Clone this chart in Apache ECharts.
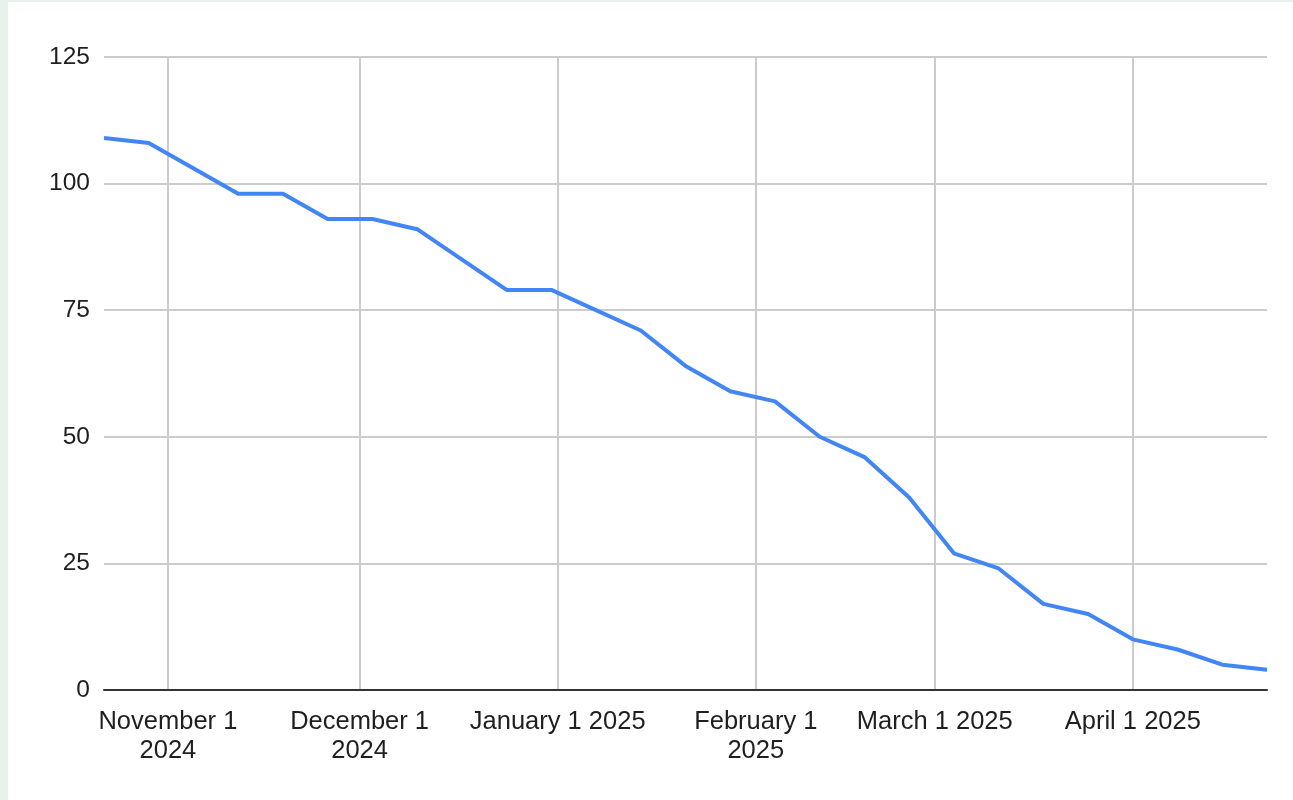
<!DOCTYPE html>
<html>
<head>
<meta charset="utf-8">
<script src="https://cdn.jsdelivr.net/npm/echarts@6/dist/echarts.min.js"></script>
<style>
  html, body { margin: 0; padding: 0; width: 1293px; height: 800px; background: #e6f2ec; overflow: hidden; }
  #chart { position: absolute; left: 8px; top: 2px; width: 1285px; height: 798px; background: #ffffff; }
</style>
</head>
<body>
<div id="chart"></div>
<script>
// Data
const dates = [
  '2024-10-22', '2024-10-29', '2024-11-12', '2024-11-19', '2024-11-26',
  '2024-12-03', '2024-12-10', '2024-12-24', '2024-12-31', '2025-01-14',
  '2025-01-21', '2025-01-28', '2025-02-04', '2025-02-11', '2025-02-18',
  '2025-02-25', '2025-03-04', '2025-03-11', '2025-03-18', '2025-03-25',
  '2025-04-01', '2025-04-08', '2025-04-15', '2025-04-22'
];
const values = [
  109, 108, 98, 98, 93,
  93, 91, 79, 79, 71,
  64, 59, 57, 50, 46,
  38, 27, 24, 17, 15,
  10, 8, 5, 4
];
const tickDates = ['2024-11-01', '2024-12-01', '2025-01-01', '2025-02-01', '2025-03-01', '2025-04-01'];
const tickLabels = ['November 1\n2024', 'December 1\n2024', 'January 1 2025', 'February 1\n2025', 'March 1 2025', 'April 1 2025'];
const yTicks = [0, 25, 50, 75, 100, 125];

// days since epoch (UTC) so the value axis is linear in time
function dayNum(s) {
  const p = s.split('-').map(Number);
  return Date.UTC(p[0], p[1] - 1, p[2]) / 86400000;
}
const tickDays = tickDates.map(dayNum);
const seriesData = dates.map((d, i) => [dayNum(d), values[i]]);

const chart = echarts.init(document.getElementById('chart'), null, { renderer: 'canvas' });
const FONT = '"Liberation Sans", Arial, sans-serif';
chart.setOption({
  animation: false,
  grid: { left: 96, right: 26, top: 55, bottom: 110, containLabel: false },
  xAxis: {
    type: 'value',
    min: dayNum(dates[0]),
    max: dayNum(dates[dates.length - 1]),
    axisLine: { show: true, onZero: false, lineStyle: { color: '#333333', width: 2 } },
    axisTick: { show: false, customValues: tickDays },
    splitLine: { show: true, lineStyle: { color: '#cccccc', width: 2 } },
    axisLabel: {
      customValues: tickDays,
      fontFamily: FONT,
      fontSize: 25.5,
      color: '#1f1f1f',
      lineHeight: 29,
      margin: 17,
      align: 'center',
      showMinLabel: true,
      showMaxLabel: true,
      hideOverlap: false,
      formatter: function (v) {
        const i = tickDays.indexOf(v);
        return i >= 0 ? tickLabels[i] : '';
      }
    }
  },
  yAxis: {
    type: 'value',
    min: yTicks[0],
    max: yTicks[yTicks.length - 1],
    interval: 25,
    axisLine: { show: false },
    axisTick: { show: false },
    splitLine: { show: true, lineStyle: { color: '#cccccc', width: 2 } },
    axisLabel: { fontFamily: FONT, fontSize: 24.5, color: '#1f1f1f', margin: 14 }
  },
  series: [{
    type: 'line',
    data: seriesData,
    showSymbol: false,
    symbol: 'none',
    lineStyle: { color: '#4285f4', width: 4 },
    z: 3
  }]
});
</script>
</body>
</html>
